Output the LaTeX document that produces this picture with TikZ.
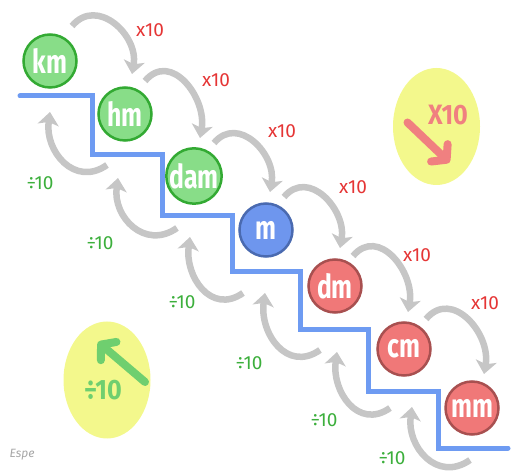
\documentclass[tikz,border=0pt]{standalone}
\usepackage{fontspec}
\setmainfont{Fira Sans}
\newfontfamily\unitfont[FakeStretch=0.75]{Fira Sans}
\newfontfamily\hintfont[FakeStretch=0.9]{Fira Sans}
\usepackage{xcolor}
\usepackage{tikz}
\usetikzlibrary{arrows.meta, shapes.geometric, positioning, calc}

\definecolor{greenfill}{HTML}{88DD88}
\definecolor{greenline}{HTML}{33AA33}
\definecolor{bluefill}{HTML}{6E96EE}
\definecolor{blueline}{HTML}{4A6AB0}
\definecolor{redfill}{HTML}{F07878}
\definecolor{redline}{HTML}{A85050}
\definecolor{stairblue}{HTML}{6E9BF2}
\definecolor{arrgray}{HTML}{C6C6C6}
\definecolor{mulred}{HTML}{E53535}
\definecolor{divgreen}{HTML}{3CAF3C}
\definecolor{hintyellow}{HTML}{F3F88C}
\definecolor{hintred}{HTML}{F08080}
\definecolor{hintgreen}{HTML}{6FCF6F}

\begin{document}
\begin{tikzpicture}[x=1pt, y=1pt,
    unit/.style={circle, draw, line width=2.5pt, minimum size=53pt, inner sep=0pt, text=white,
        font=\unitfont\bfseries\fontsize{33}{33}\selectfont},
    bigunit/.style={unit, fill=greenfill, draw=greenline},
    baseunit/.style={unit, fill=bluefill, draw=blueline},
    smallunit/.style={unit, fill=redfill, draw=redline},
    stairline/.style={draw=stairblue, line width=5pt, line cap=round},
    mularr/.style={draw=arrgray, line width=6.5pt, -{Stealth[length=13pt, width=21pt, inset=3pt]}},
    divarr/.style={draw=arrgray, line width=6.5pt, -{Stealth[length=13pt, width=21pt, inset=3pt]}},
    mullabel/.style={text=mulred, font=\fontsize{19}{19}\selectfont},
    divlabel/.style={text=divgreen, font=\fontsize{19}{19}\selectfont},
    hint/.style={ellipse, fill=hintyellow, minimum width=87pt, minimum height=117pt, inner sep=0pt},
    hintarr/.style={line width=8pt, line cap=round, -{Straight Barb[round, length=10pt, width=24pt]}}
]
    \useasboundingbox (0,0) rectangle (511,471);

    % Hints
    \node[hint] (mulhint) at (436.5,344.5) {};
    \node[hint] (divhint) at (107,91) {};
    \draw[hintarr, draw=hintred] ([shift={(-29,4)}]mulhint.center) -- ([shift={(13,-36)}]mulhint.center);
    \draw[hintarr, draw=hintgreen] ([shift={(38,-2)}]divhint.center) -- ([shift={(-9,38)}]divhint.center);
    \node[text=hintred, font=\hintfont\bfseries\fontsize{28}{28}\selectfont] (multext) at (448,356) {X10};
    \node[text=hintgreen, font=\hintfont\bfseries\fontsize{28}{28}\selectfont] (divtext) at (103,81) {÷10};

    % Stairs
    \draw[stairline] (20,375) -| (92,316) -| (162,255) -| (232,199) -| (300,141) -| (368,79) -| (438,23) -- (508,23);

    % Units
    \node[bigunit] (km) at (50,410) {km};
    \node[bigunit] (hm) at (125,357) {hm};
    \node[bigunit] (dam) at (194,295) {dam};
    \node[baseunit] (m) at (266,241) {m};
    \node[smallunit] (dm) at (335,185) {dm};
    \node[smallunit] (cm) at (404,122) {cm};
    \node[smallunit] (mm) at (472,63) {mm};

    % x10 steps down
    \draw[mularr] ([shift={(22,35)}]km.center) to[out=50, in=80, looseness=1.3] ([shift={(7,40)}]hm.center);
    \draw[mularr] ([shift={(20,33)}]hm.center) to[out=50, in=80, looseness=1.3] ([shift={(6,38)}]dam.center);
    \draw[mularr] ([shift={(20,33)}]dam.center) to[out=50, in=80, looseness=1.3] ([shift={(4,38)}]m.center);
    \draw[mularr] ([shift={(18,33)}]m.center) to[out=50, in=80, looseness=1.3] ([shift={(5,38)}]dm.center);
    \draw[mularr] ([shift={(18,30)}]dm.center) to[out=50, in=80, looseness=1.3] ([shift={(4,37)}]cm.center);
    \draw[mularr] ([shift={(22,30)}]cm.center) to[out=50, in=80, looseness=1.3] ([shift={(12,34)}]mm.center);

    \node[mullabel] (mul1) at (150,441) {x10};
    \node[mullabel] (mul2) at (216,391) {x10};
    \node[mullabel] (mul3) at (282,340) {x10};
    \node[mullabel] (mul4) at (353,284) {x10};
    \node[mullabel] (mul5) at (417,216) {x10};
    \node[mullabel] (mul6) at (485,168) {x10};

    % /10 steps up
    \draw[divarr] ([shift={(-18,-51)}]hm.center) to[out=215, in=262, looseness=1.3] ([shift={(0,-51)}]km.center);
    \draw[divarr] ([shift={(-17,-52)}]dam.center) to[out=215, in=262, looseness=1.3] ([shift={(-7,-64)}]hm.center);
    \draw[divarr] ([shift={(-23,-63)}]m.center) to[out=215, in=262, looseness=1.3] ([shift={(-4,-61)}]dam.center);
    \draw[divarr] ([shift={(-15,-64)}]dm.center) to[out=215, in=262, looseness=1.3] ([shift={(-1,-63)}]m.center);
    \draw[divarr] ([shift={(-14,-59)}]cm.center) to[out=215, in=262, looseness=1.3] ([shift={(2,-66)}]dm.center);
    \draw[divarr] ([shift={(-2,-52)}]mm.center) to[out=215, in=262, looseness=1.3] ([shift={(8,-58)}]cm.center);

    \node[divlabel] (div1) at (40,288) {÷10};
    \node[divlabel] (div2) at (100,228) {÷10};
    \node[divlabel] (div3) at (182,169) {÷10};
    \node[divlabel] (div4) at (249,108) {÷10};
    \node[divlabel] (div5) at (324,51) {÷10};
    \node[divlabel] (div6) at (392,13) {÷10};

    % Signature
    \node[text=gray!70, font=\itshape\fontsize{12}{12}\selectfont] (sign) at (22,16) {Espe};
\end{tikzpicture}
\end{document}
